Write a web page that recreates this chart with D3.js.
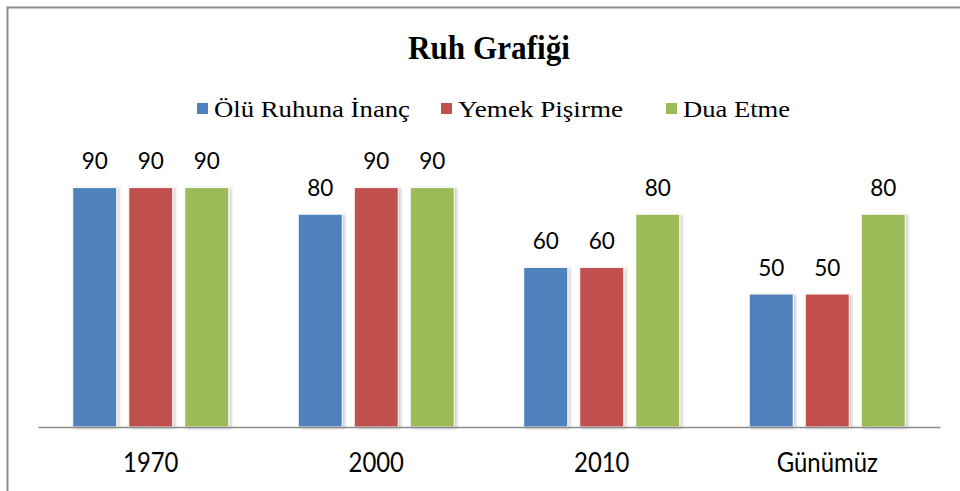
<!DOCTYPE html>
<html>
<head>
<meta charset="utf-8">
<script src="https://cdn.jsdelivr.net/npm/d3@7"></script>
<style>
  html, body { margin: 0; padding: 0; background: #fff; }
  svg { display: block; }
</style>
</head>
<body>
<svg id="chart" width="960" height="491"></svg>
<script>
// Chart data
const title = "Ruh Grafiği";
const categories = ["1970", "2000", "2010", "Günümüz"];
const seriesNames = ["Ölü Ruhuna İnanç", "Yemek Pişirme", "Dua Etme"];
const oluRuhunaInanc = [90, 80, 60, 50];
const yemekPisirme = [90, 90, 60, 50];
const duaEtme = [90, 90, 80, 80];
const seriesColors = ["#4F81BD", "#C0504D", "#9BBB59"];

const seriesValues = [oluRuhunaInanc, yemekPisirme, duaEtme];

const W = 960, H = 491;
const plot = { left: 38, right: 940, top: 161, bottom: 427 };
const sansFont = "Lato, 'Open Sans', sans-serif";
const serifFont = "'Liberation Serif', 'Times New Roman', serif";

const svg = d3.select("#chart");

// soft drop shadow for the bars
const defs = svg.append("defs");
const f = defs.append("filter").attr("id", "barShadow")
  .attr("x", "-20%").attr("y", "-5%").attr("width", "150%").attr("height", "115%");
f.append("feDropShadow").attr("dx", 2).attr("dy", 1).attr("stdDeviation", 1.6)
  .attr("flood-color", "#000").attr("flood-opacity", 0.22);

// outer frame
svg.append("rect")
  .attr("x", 7.5).attr("y", 7.5)
  .attr("width", W + 20).attr("height", H + 20)
  .attr("fill", "#fff").attr("stroke", "#8c8c8c").attr("stroke-width", 2);

// scales
const x0 = d3.scaleBand().domain(categories).range([plot.left, plot.right]).padding(0);
const x1 = d3.scaleBand().domain(seriesNames).range([0, x0.bandwidth()])
  .paddingInner(12 / 56).paddingOuter(0.62);
const y = d3.scaleLinear().domain([0, 100]).range([plot.bottom, plot.top]);

// bars
const groups = svg.append("g").selectAll("g")
  .data(categories)
  .join("g")
  .attr("transform", d => `translate(${x0(d)},0)`);

const cells = (c, i) => seriesNames.map((s, k) => ({ s, k, v: seriesValues[k][i] }));

groups.selectAll("rect")
  .data(cells)
  .join("rect")
  .attr("x", d => x1(d.s))
  .attr("y", d => y(d.v))
  .attr("width", x1.bandwidth())
  .attr("height", d => y(0) - y(d.v))
  .attr("fill", d => seriesColors[d.k])
  .attr("stroke", "#fff")
  .attr("stroke-width", 1)
  .attr("filter", "url(#barShadow)");

// value labels
groups.selectAll("text")
  .data(cells)
  .join("text")
  .attr("transform", d =>
    `translate(${x1(d.s) + x1.bandwidth() / 2},${y(d.v) - 18.5}) scale(0.94,1)`)
  .attr("text-anchor", "middle")
  .attr("font-family", sansFont)
  .attr("font-size", 24)
  .attr("fill", "#000")
  .text(d => d.v);

// category axis
const xAxis = svg.append("g")
  .attr("transform", `translate(0,${plot.bottom})`)
  .call(d3.axisBottom(x0).tickSize(0));
xAxis.select(".domain").attr("stroke", "#8c8c8c").attr("stroke-width", 1.5);
xAxis.selectAll(".tick text")
  .attr("y", 45)
  .attr("dy", null)
  .attr("transform", "scale(0.92,1)")
  .attr("font-family", sansFont)
  .attr("font-size", 26)
  .attr("fill", "#000");

// title
svg.append("text")
  .attr("x", 408).attr("y", 59)
  .attr("font-family", serifFont)
  .attr("font-weight", "bold")
  .attr("font-size", 33)
  .attr("textLength", 162)
  .attr("lengthAdjust", "spacingAndGlyphs")
  .text(title);

// legend
const legendX = [197, 441, 666];
const legendTextW = [196, 165, 107];
const legend = svg.append("g").selectAll("g")
  .data(seriesNames)
  .join("g")
  .attr("transform", (d, i) => `translate(${legendX[i]},0)`);
legend.append("rect")
  .attr("x", 0).attr("y", 103)
  .attr("width", 11).attr("height", 11)
  .attr("fill", (d, i) => seriesColors[i]);
legend.append("text")
  .attr("x", 17).attr("y", 117)
  .attr("font-family", serifFont)
  .attr("font-size", 23)
  .attr("textLength", (d, i) => legendTextW[i])
  .attr("lengthAdjust", "spacingAndGlyphs")
  .attr("fill", "#000")
  .text(d => d);
</script>
</body>
</html>
